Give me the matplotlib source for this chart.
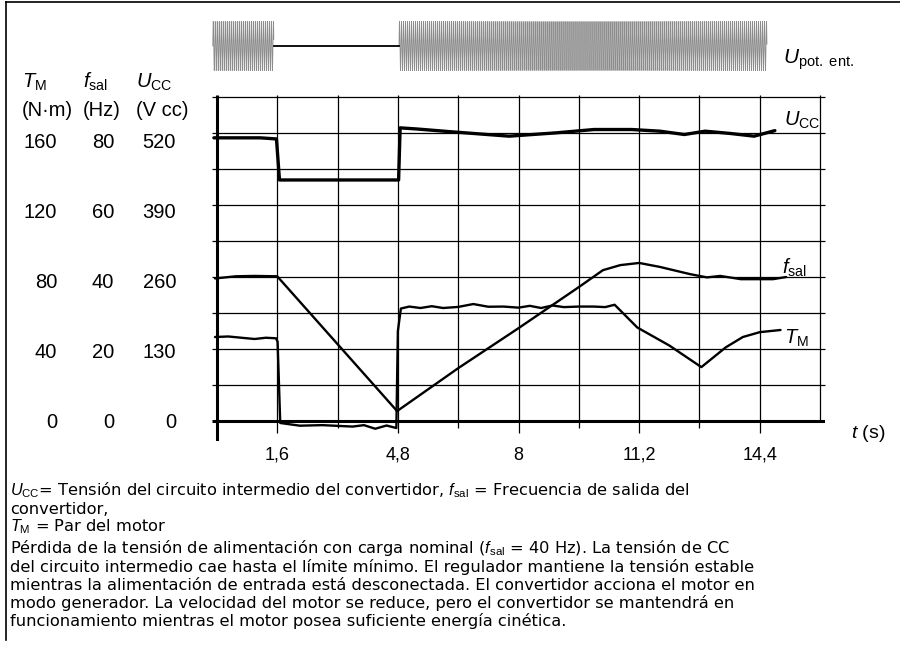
import numpy as np
import matplotlib
matplotlib.use("Agg")
import matplotlib.pyplot as plt

plt.rcParams["font.family"] = ["Liberation Sans", "DejaVu Sans"]
plt.rcParams["mathtext.fontset"] = "custom"
plt.rcParams["mathtext.rm"] = "Liberation Sans"
plt.rcParams["mathtext.it"] = "Liberation Sans:italic"
plt.rcParams["mathtext.bf"] = "Liberation Sans:bold"

# DC link voltage U_CC (V)
ucc_t = [-0.08, 1.15, 1.58, 1.66, 4.82, 4.86, 5.3, 6.2, 7.75, 9.0, 10.0, 11.0,
         11.75, 12.4, 12.95, 13.6, 14.25, 14.8]
ucc_v = [511, 511, 509, 435, 435, 529, 527, 522, 514, 520, 526, 526,
         523, 517, 523, 519, 514, 524]

# output frequency f_sal (Hz)
fsal_t = [-0.05, 0.5, 1.0, 1.6, 4.78, 6.4, 8.0, 9.6, 10.24, 10.7, 11.2, 11.75,
          12.55, 13.0, 13.35, 13.9, 14.75, 15.1]
fsal_hz = [39.6, 40.2, 40.3, 40.2, 2.8, 14.7, 25.8, 37.2, 41.9, 43.3, 43.9, 42.8,
           40.8, 39.9, 40.3, 39.4, 39.4, 40.0]

# motor torque T_M (N·m)
tm_t = [-0.05, 0.3, 0.7, 1.0, 1.3, 1.57, 1.61, 1.68, 2.2, 2.8, 3.3, 3.6, 3.9,
        4.2, 4.5, 4.76, 4.8, 4.88, 5.1, 5.4, 5.7, 6.0, 6.4, 6.8, 7.2, 7.6, 8.0,
        8.3, 8.6, 8.9, 9.2, 9.6, 10.0, 10.3, 10.55, 11.15, 12.0, 12.85, 13.5,
        13.95, 14.4, 14.95]
tm_nm = [46.7, 47.0, 46.2, 45.6, 46.3, 46.0, 44.0, -1.0, -2.5, -2.2, -2.7, -3.0,
         -2.2, -4.2, -2.4, -3.8, 50.0, 62.5, 63.6, 62.8, 63.8, 62.8, 63.4, 65.0,
         63.5, 63.6, 63.0, 64.0, 62.8, 64.2, 63.3, 63.6, 63.6, 63.3, 64.6, 52.0,
         42.0, 30.0, 41.0, 46.7, 49.4, 50.6]

# supply voltage: present, lost, present again (s)
supply_on = [(-0.11, 1.51), (4.83, 14.59)]
supply_off = (1.51, 4.83)
supply_cycles_per_s = 18.8

grid_t = [1.6, 3.2, 4.8, 6.4, 8.0, 9.6, 11.2, 12.8, 14.4, 16.0]
grid_y = [20, 40, 60, 80, 100, 120, 140, 160, 180]
tick_t = [1.6, 4.8, 8.0, 11.2, 14.4]
tick_labels = ["1,6", "4,8", "8", "11,2", "14,4"]

torque_ticks = [0, 40, 80, 120, 160]
freq_ticks = [0, 20, 40, 60, 80]
volt_ticks = [0, 130, 260, 390, 520]

# everything is drawn on the torque scale: 160 N·m = 80 Hz = 520 V
HZ_TO_NM = 2.0
V_TO_NM = 160 / 520

caption = [
    (r"$U_\mathrm{CC}$= Tensión del circuito intermedio del convertidor, "
     r"$f_\mathrm{sal}$ = Frecuencia de salida del", 490),
    ("convertidor,", 509),
    (r"$T_\mathrm{M}$ = Par del motor", 527),
    (r"Pérdida de la tensión de alimentación con carga nominal "
     r"($f_\mathrm{sal}$ = 40 Hz). La tensión de CC", 548),
    ("del circuito intermedio cae hasta el límite mínimo. El regulador "
     "mantiene la tensión estable", 567),
    ("mientras la alimentación de entrada está desconectada. El convertidor "
     "acciona el motor en", 585),
    ("modo generador. La velocidad del motor se reduce, pero el convertidor "
     "se mantendrá en", 603),
    ("funcionamiento mientras el motor posea suficiente energía cinética.", 621),
]

W, H = 900, 667
fig = plt.figure(figsize=(W / 100, H / 100), dpi=100)


def fx(px):
    return px / W


def fy(py):
    return 1 - py / H


XMIN, XMAX = -0.13, 16.13
YMIN, YMAX = -11, 181
LABEL_SIZE = 14.5

# frame
fig.add_artist(plt.Line2D([fx(6), fx(6)], [fy(2), fy(640)], color="black", lw=1.2))
fig.add_artist(plt.Line2D([fx(6), 1], [fy(2), fy(2)], color="black", lw=1.2))

# supply voltage strip
wave = fig.add_axes([fx(212), fy(71), fx(825) - fx(212), fy(21) - fy(71)])
wave.set_xlim(XMIN, XMAX)
wave.set_ylim(-1.02, 1.02)
wave.set_axis_off()
for t0, t1 in supply_on:
    tt = np.linspace(t0, t1, int((t1 - t0) * 3000))
    wave.plot(tt, np.sin(2 * np.pi * supply_cycles_per_s * (tt - t0)),
              color="#8c8c8c", lw=0.6)
wave.plot(supply_off, [0, 0], color="black", lw=1.3)
fig.text(fx(783), fy(60), r"$U_\mathrm{pot.\ ent.}$", fontsize=15,
         ha="left", va="center")

# main plot
ax = fig.add_axes([fx(212), fy(441), fx(825) - fx(212), fy(95) - fy(441)])
ax.set_xlim(XMIN, XMAX)
ax.set_ylim(YMIN, YMAX)
ax.set_axis_off()

ax.hlines(grid_y, XMIN, XMAX, color="black", lw=0.9, clip_on=False)
for t in grid_t:
    low = -6.7 if t in tick_t else (-3.9 if t < 16 else 0)
    ax.vlines(t, low, YMAX, color="black", lw=0.9, clip_on=False)
ax.hlines(0, XMIN, XMAX, color="black", lw=2.2)
ax.vlines(0, YMIN, YMAX, color="black", lw=2.2)

ax.plot(ucc_t, np.array(ucc_v) * V_TO_NM, color="black", lw=2.4,
        solid_joinstyle="round", solid_capstyle="round")
ax.plot(fsal_t, np.array(fsal_hz) * HZ_TO_NM, color="black", lw=1.7,
        solid_joinstyle="round", solid_capstyle="round")
ax.plot(tm_t, tm_nm, color="black", lw=1.7,
        solid_joinstyle="round", solid_capstyle="round")

ax.text(15.05, 167, r"$U_\mathrm{CC}$", fontsize=LABEL_SIZE, ha="left", va="center")
ax.text(14.98, 85, r"$f_\mathrm{sal}$", fontsize=LABEL_SIZE, ha="left", va="center")
ax.text(15.05, 46, r"$T_\mathrm{M}$", fontsize=LABEL_SIZE, ha="left", va="center")

# time axis labels
for t, lab in zip(tick_t, tick_labels):
    ax.text(t, -19, lab, fontsize=13, ha="center", va="center")
fig.text(fx(851), fy(434), r"$t$ (s)", fontsize=14, ha="left", va="center")

# three value columns on the left, one row per 40 N·m
for col_x, values in [(57, torque_ticks), (114, freq_ticks), (176, volt_ticks)]:
    for k, v in enumerate(values):
        fig.text(fx(col_x), fy(423 - 70.2 * k), str(v),
                 fontsize=LABEL_SIZE, ha="right", va="center")

for col_x, head, unit in [(22, r"$T_\mathrm{M}$", "(N·m)"),
                          (83, r"$f_\mathrm{sal}$", "(Hz)"),
                          (136, r"$U_\mathrm{CC}$", "(V cc)")]:
    fig.text(fx(col_x), fy(82), head, fontsize=LABEL_SIZE, ha="left", va="center")
    fig.text(fx(col_x), fy(111), unit, fontsize=LABEL_SIZE, ha="left", va="center")

# explanatory caption
for line, y in caption:
    fig.text(fx(10), fy(y), line, fontsize=11.7, family="DejaVu Sans",
             ha="left", va="center")

fig.savefig("out.png", dpi=100)
